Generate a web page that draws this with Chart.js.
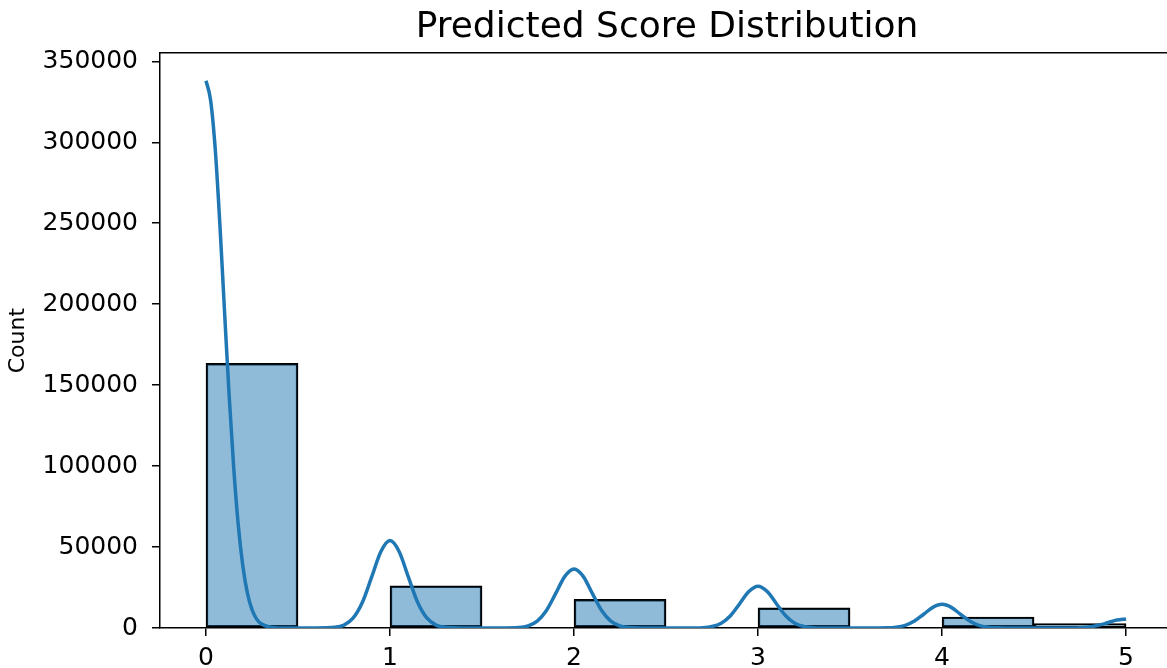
<!DOCTYPE html>
<html>
<head>
<meta charset="utf-8">
<script src="https://cdn.jsdelivr.net/npm/chart.js@4.4.1/dist/chart.umd.min.js"></script>
<style>
  html, body { margin: 0; padding: 0; background: #fff; overflow: hidden; }
  /* canvas runs past the right edge of the window, the axes are cut there */
  #wrap { width: 1334px; height: 668px; position: relative; }
</style>
</head>
<body>
<div id="wrap"><canvas id="scoreChart"></canvas></div>
<script>
// histogram bins (width 0.5) - empty bins left out
const binStarts = [0, 1, 2, 3, 4, 4.5];
const binWidth = 0.5;
const binCounts = [163500, 26000, 17700, 12400, 6800, 2700];

// kde curve, sampled along the score axis
const kdeX = [
  0, 0.025, 0.05, 0.075, 0.1, 0.125, 0.15, 0.175, 0.2, 0.225, 0.25, 0.275, 0.3, 0.35, 0.4, 0.5, 0.6,
  0.7, 0.75, 0.8, 0.85, 0.9, 0.95, 1, 1.05, 1.1, 1.15, 1.2, 1.25, 1.3, 1.4, 1.5, 1.6,
  1.7, 1.75, 1.8, 1.85, 1.9, 1.95, 2, 2.05, 2.1, 2.15, 2.2, 2.25, 2.3, 2.4, 2.5, 2.6,
  2.7, 2.75, 2.8, 2.85, 2.9, 2.95, 3, 3.05, 3.1, 3.15, 3.2, 3.25, 3.3, 3.4, 3.5, 3.6,
  3.7, 3.75, 3.8, 3.85, 3.9, 3.95, 4, 4.05, 4.1, 4.15, 4.2, 4.25, 4.3, 4.4, 4.5, 4.6,
  4.7, 4.75, 4.8, 4.85, 4.9, 4.95, 5
];
const kdeY = [
  338000, 326000, 296000, 250000, 197000, 145000, 100000, 64000, 38500, 21500, 11300, 5500, 2600, 450, 60, 0, 0,
  400, 1800, 6200, 15900, 31400, 47100, 54000, 47100, 31400, 15900, 6200, 1800, 400, 0, 0, 0,
  280, 1240, 4200, 10800, 21200, 31900, 36500, 31900, 21200, 10800, 4200, 1240, 280, 0, 0, 0,
  200, 880, 2940, 7600, 15000, 22500, 25800, 22500, 15000, 7600, 2940, 880, 200, 0, 0, 0,
  110, 500, 1660, 4300, 8480, 12750, 14600, 12750, 8480, 4300, 1660, 500, 110, 0, 0, 0,
  40, 190, 640, 1650, 3250, 4890, 5600
];

const xTicks = [0, 1, 2, 3, 4, 5];
const yTicks = [0, 50000, 100000, 150000, 200000, 250000, 300000, 350000];

const barData = binStarts.map((s, i) => ({ x: s + binWidth / 2, y: binCounts[i] }));
const kdeData = kdeX.map((x, i) => ({ x: x, y: kdeY[i] }));

const font = "'DejaVu Sans', sans-serif";
const xMin = -0.25;
const xMax = 6.13;

const ctx = document.getElementById("scoreChart").getContext("2d");
new Chart(ctx, {
  type: "bar",
  data: {
    datasets: [
      {
        type: "line",
        data: kdeData,
        borderColor: "#1f77b4",
        borderWidth: 3.5,
        pointRadius: 0,
        cubicInterpolationMode: "monotone",
        fill: false,
        order: 0,
      },
      {
        type: "bar",
        data: barData,
        backgroundColor: "rgba(31,119,180,0.5)",
        borderColor: "#000",
        borderWidth: 1.8,
        borderSkipped: false,
        categoryPercentage: 1,
        barPercentage: 1,
        order: 1,
      },
    ],
  },
  options: {
    responsive: true,
    maintainAspectRatio: false,
    animation: false,
    layout: { padding: 0 },
    plugins: {
      legend: { display: false },
      tooltip: { enabled: false },
      title: {
        display: true,
        text: "Predicted Score Distribution",
        color: "#000",
        font: { family: font, size: 36, weight: "normal" },
        padding: { top: 6, bottom: 4 },
      },
    },
    scales: {
      x: {
        type: "linear",
        position: "bottom",
        offset: false,
        min: xMin,
        max: xMax,
        afterFit: (s) => { s.height = 40; },
        afterBuildTicks: (s) => { s.ticks = xTicks.map((v) => ({ value: v })); },
        ticks: {
          color: "#000",
          padding: 7,
          font: { family: font, size: 25 },
          callback: (v) => String(v),
        },
        grid: { offset: false, drawOnChartArea: false, color: "#000", lineWidth: 1.5, tickLength: 8 },
        border: { color: "#000", width: 1.5 },
      },
      x2: {
        type: "linear",
        position: "top",
        offset: false,
        min: xMin,
        max: xMax,
        ticks: { display: false },
        grid: { display: false, drawTicks: false },
        border: { color: "#000", width: 1.5 },
      },
      y: {
        min: 0,
        max: 355000,
        afterFit: (s) => { s.width = 160; },
        afterBuildTicks: (s) => { s.ticks = yTicks.map((v) => ({ value: v })); },
        ticks: {
          color: "#000",
          padding: 14,
          font: { family: font, size: 25 },
          callback: (v) => String(v),
        },
        grid: { drawOnChartArea: false, color: "#000", lineWidth: 1.5, tickLength: 8 },
        border: { color: "#000", width: 1.5 },
        title: {
          display: true,
          text: "Count",
          color: "#000",
          font: { family: font, size: 22 },
          padding: { top: 5, bottom: 0 },
        },
      },
    },
  },
});
</script>
</body>
</html>
